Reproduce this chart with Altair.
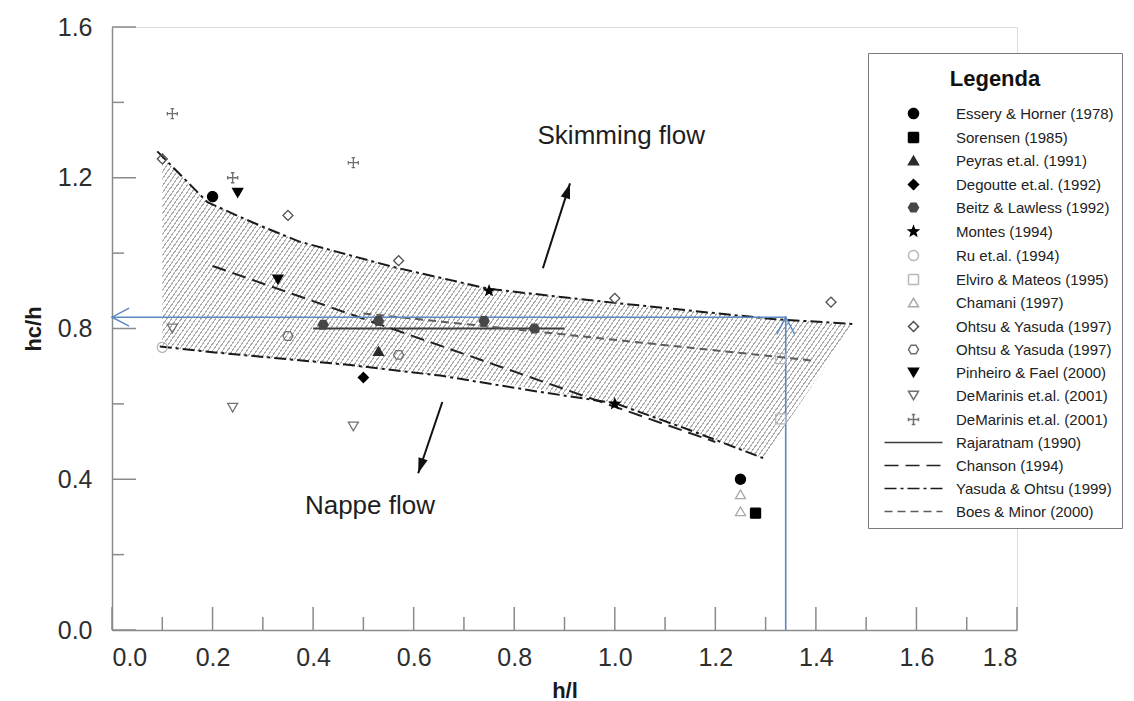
import math
import numpy as np
import pandas as pd
import altair as alt

W, H = 905, 603
X_MAX, Y_MAX = 1.8, 1.6
FONT = "Liberation Sans"

# ---------------- legend series ----------------
SERIES = [
    "Essery & Horner (1978)", "Sorensen (1985)", "Peyras et.al. (1991)",
    "Degoutte et.al. (1992)", "Beitz & Lawless (1992)", "Montes (1994)",
    "Ru et.al. (1994)", "Elviro & Mateos (1995)", "Chamani (1997)",
    "Ohtsu & Yasuda (1997)", "Ohtsu & Yasuda (1997) ", "Pinheiro & Fael (2000)",
    "DeMarinis et.al. (2001)", "DeMarinis et.al. (2001) ", "Rajaratnam (1990)",
    "Chanson (1994)", "Yasuda & Ohtsu (1999)", "Boes & Minor (2000)",
]

# ---------------- measured points ----------------
pt_series = (["Essery & Horner (1978)"] * 2 + ["Sorensen (1985)"] + ["Peyras et.al. (1991)"]
             + ["Degoutte et.al. (1992)"] + ["Beitz & Lawless (1992)"] * 4 + ["Montes (1994)"] * 2
             + ["Ru et.al. (1994)"] + ["Elviro & Mateos (1995)"] * 2 + ["Chamani (1997)"] * 2
             + ["Ohtsu & Yasuda (1997)"] * 5 + ["Ohtsu & Yasuda (1997) "] * 2
             + ["Pinheiro & Fael (2000)"] * 2 + ["DeMarinis et.al. (2001)"] * 3
             + ["DeMarinis et.al. (2001) "] * 3)
pt_x = [0.20, 1.25, 1.28, 0.53, 0.50, 0.42, 0.53, 0.74, 0.84, 0.75, 1.00,
        0.10, 1.33, 1.33, 1.25, 1.25, 0.10, 0.35, 0.57, 1.00, 1.43, 0.35, 0.57,
        0.25, 0.33, 0.12, 0.24, 0.48, 0.12, 0.24, 0.48]
pt_y = [1.15, 0.40, 0.31, 0.74, 0.67, 0.81, 0.82, 0.82, 0.80, 0.90, 0.60,
        0.75, 0.56, 0.72, 0.36, 0.315, 1.25, 1.10, 0.98, 0.88, 0.87, 0.78, 0.73,
        1.16, 0.93, 0.80, 0.59, 0.54, 1.37, 1.20, 1.24]

# ---------------- criterion lines ----------------
ln_series = (["Rajaratnam (1990)"] * 2 + ["Chanson (1994)"] * 2
             + ["Yasuda & Ohtsu (1999)"] * 10 + ["Yasuda & Ohtsu (1999)"] * 8
             + ["Boes & Minor (2000)"] * 2)
ln_seg = (["r"] * 2 + ["c"] * 2 + ["yu"] * 10 + ["yl"] * 8 + ["b"] * 2)
ln_x = [0.40, 0.90, 0.20, 1.20,
        0.09, 0.19, 0.26, 0.30, 0.374, 0.56, 0.75, 1.00, 1.315, 1.475,
        0.095, 0.20, 0.474, 0.653, 0.85, 1.00, 1.15, 1.295,
        0.50, 1.40]
ln_y = [0.80, 0.80, 0.966, 0.499,
        1.27, 1.135, 1.093, 1.07, 1.03, 0.963, 0.905, 0.868, 0.825, 0.812,
        0.752, 0.737, 0.703, 0.675, 0.632, 0.602, 0.53, 0.456,
        0.84, 0.714]

# ---------------- hatched zone ----------------
zone_x = [0.10, 0.19, 0.26, 0.374, 0.56, 0.75, 1.00, 1.15, 1.295, 1.475]
zone_hi = [1.255, 1.135, 1.093, 1.03, 0.963, 0.905, 0.868, 0.848, 0.828, 0.812]
zone_lo = [0.752, 0.737, 0.728, 0.713, 0.688, 0.662, 0.602, 0.53, 0.456, 0.812]

# ---------------- blue reading guide ----------------
blue_x = [0.0, 1.34, 1.34]
blue_y = [0.83, 0.83, 0.0]
chev_x = [0.0, 1.34]
chev_y = [0.83, 0.83]
chev_ang = [270, 0]

# ---------------- flow arrows and notes ----------------
arr_x = [0.857, 0.657]
arr_y = [0.96, 0.605]
arr_x2 = [0.911, 0.609]
arr_y2 = [1.185, 0.416]
note_text = ["Skimming flow", "Nappe flow"]
note_x = [1.013, 0.513]
note_y = [1.31, 0.329]

# ---------------- axis ticks ----------------
x_major = [0.0, 0.2, 0.4, 0.6, 0.8, 1.0, 1.2, 1.4, 1.6, 1.8]
x_minor = [0.1, 0.3, 0.5, 0.7, 0.9, 1.1, 1.3, 1.5, 1.7]
y_major = [0.0, 0.4, 0.8, 1.2, 1.6]
y_minor = [0.2, 0.6, 1.0, 1.4]

# ---------------- styles ----------------
def star_path(n=5, r_in=0.42):
    pts = []
    for k in range(2 * n):
        r = 1.0 if k % 2 == 0 else r_in
        a = -math.pi / 2 + k * math.pi / n
        pts.append(f"{r*math.cos(a):.3f},{r*math.sin(a):.3f}")
    return "M" + "L".join(pts) + "Z"

HEX = "M-1,0L-0.5,-0.866L0.5,-0.866L1,0L0.5,0.866L-0.5,0.866Z"
STAR = star_path()
CROSS = ("M-1,0L1,0M0,-1L0,1M-1,-0.35L-1,0.35M1,-0.35L1,0.35"
         "M-0.35,-1L0.35,-1M-0.35,1L0.35,1")
LINE = "M-5.8,0L5.8,0"

SHAPES = ["circle", "square", "triangle-up", "diamond", HEX, STAR, "circle", "square",
          "triangle-up", "diamond", HEX, "triangle-down", "triangle-down", CROSS,
          LINE, LINE, LINE, LINE]
STROKES = ["#000000", "#000000", "#2a2a2a", "#000000", "#474747", "#000000", "#b8b8b8",
           "#b8b8b8", "#a8a8a8", "#505050", "#6e6e6e", "#000000", "#707070", "#707070",
           "#3c3c3c", "#222222", "#1a1a1a", "#5c5c5c"]
FILLED = [True, True, True, True, True, True, False, False, False, False, False, True,
          False, False, False, False, False, False]
FILLS = [c if f else "transparent" for c, f in zip(STROKES, FILLED)]
DASHES = [[1, 0]] * 15 + [[14, 7], [12, 4, 3, 4], [8, 5]]

AXIS_COL = "#8a8a8a"
LABEL_COL = "#2e2e2e"
BLUE = "#5b87c4"

xs = alt.Scale(domain=[0, X_MAX], nice=False, zero=False)
ys = alt.Scale(domain=[0, Y_MAX], nice=False, zero=False)
x_axis = alt.Axis(values=x_major, format=".1f", title="h/l", ticks=False, tickSize=0,
                  grid=False, domainColor=AXIS_COL, domainWidth=1.5, labelFontSize=25,
                  labelColor=LABEL_COL, labelPadding=15, labelFont=FONT,
                  titleFontSize=22, titleFontWeight="bold", titleColor="#1a1a1a",
                  titleFont=FONT, titleX=W / 2, titleY=60, titleBaseline="middle")
y_axis = alt.Axis(values=y_major, format=".1f", title="hc/h", ticks=False, tickSize=0,
                  grid=False, domainColor=AXIS_COL, domainWidth=1.5, labelFontSize=25,
                  labelColor=LABEL_COL, labelPadding=20, labelFont=FONT,
                  titleFontSize=22, titleFontWeight="bold", titleColor="#1a1a1a",
                  titleFont=FONT, titleX=-79, titleY=H / 2, titleBaseline="middle")


def X(f):
    return alt.X(f, type="quantitative", scale=xs, axis=x_axis)


def Y(f):
    return alt.Y(f, type="quantitative", scale=ys, axis=y_axis)


legend = alt.Legend(
    title="Legenda", orient="none", legendX=756, legendY=26, direction="vertical",
    columns=1, padding=8, fillColor="white", strokeColor="#7a7a7a",
    titleFontSize=22, titleFontWeight="bold", titleColor="#111111", titleFont=FONT,
    titleAnchor="middle", titlePadding=23, titleBaseline="line-top", titleLineHeight=38,
    labelFontSize=15, labelColor="#222222", labelFont=FONT, labelLimit=300,
    symbolSize=100, symbolStrokeWidth=1.5, symbolOffset=30, labelOffset=35,
    rowPadding=7,
)

shape_enc = alt.Shape("series:N", scale=alt.Scale(domain=SERIES, range=SHAPES), legend=legend)
fill_enc = alt.Fill("series:N", scale=alt.Scale(domain=SERIES, range=FILLS), legend=legend)
stroke_enc = alt.Stroke("series:N", scale=alt.Scale(domain=SERIES, range=STROKES), legend=legend)
dash_enc = alt.StrokeDash("series:N", scale=alt.Scale(domain=SERIES, range=DASHES), legend=legend)

# ---------------- data frames ----------------
pts = pd.DataFrame({"series": pt_series, "x": pt_x, "y": pt_y})
lns = pd.DataFrame({"series": ln_series, "seg": ln_seg, "x": ln_x, "y": ln_y,
                    "o": list(range(len(ln_x)))})
zone = pd.DataFrame({"x": zone_x, "hi": zone_hi, "lo": zone_lo})
blue = pd.DataFrame({"x": blue_x, "y": blue_y, "o": [0, 1, 2]})
chev = pd.DataFrame({"x": chev_x, "y": chev_y, "a": chev_ang})
px_x, px_y = W / X_MAX, H / Y_MAX
ang = [(math.degrees(math.atan2((x2 - x1) * px_x, (y2 - y1) * px_y)) + 360) % 360
       for x1, y1, x2, y2 in zip(arr_x, arr_y, arr_x2, arr_y2)]
arrows = pd.DataFrame({"x": arr_x, "y": arr_y, "x2": arr_x2, "y2": arr_y2, "a": ang})
notes = pd.DataFrame({"t": note_text, "x": note_x, "y": note_y})

# ---------------- hatch as striped gradient ----------------
bw = (max(zone_x) - min(zone_x)) * px_x
bh = (max(zone_hi) - min(zone_lo)) * px_y
theta = math.radians(55)
p, q = math.sin(theta) * bw, math.cos(theta) * bh
k = (p + q) / (p * p + q * q)
span = math.sin(theta) * bw + math.cos(theta) * bh
period = 4.0
n = int(round(span / period))
frac = 0.28
stops = []
for i in range(n):
    a0, a1, a2 = i / n, (i + frac) / n, (i + 1) / n
    stops += [alt.GradientStop(offset=round(a0, 6), color="#ababab"),
              alt.GradientStop(offset=round(a1, 6), color="#ababab"),
              alt.GradientStop(offset=round(a1, 6), color="#ffffff"),
              alt.GradientStop(offset=round(a2, 6), color="#ffffff")]
hatch = alt.LinearGradient(gradient="linear", stops=stops, x1=0, y1=0,
                           x2=round(k * p, 6), y2=round(k * q, 6))

# ---------------- layers ----------------
zone_layer = alt.Chart(zone).mark_area(fill=hatch, opacity=1).encode(
    x=X("x"), y=Y("hi"), y2="lo")

xmaj = alt.Chart(pd.DataFrame({"v": x_major})).mark_rule(color=AXIS_COL, strokeWidth=1.5).encode(
    x=X("v"), y=alt.value(H), y2=alt.value(H - 23))
xmin = alt.Chart(pd.DataFrame({"v": x_minor})).mark_rule(color=AXIS_COL, strokeWidth=1.5).encode(
    x=X("v"), y=alt.value(H), y2=alt.value(H - 13))
ymaj = alt.Chart(pd.DataFrame({"v": y_major})).mark_rule(color=AXIS_COL, strokeWidth=1.5).encode(
    y=Y("v"), x=alt.value(0), x2=alt.value(24))
ymin = alt.Chart(pd.DataFrame({"v": y_minor})).mark_rule(color=AXIS_COL, strokeWidth=1.5).encode(
    y=Y("v"), x=alt.value(0), x2=alt.value(12))

line_layer = alt.Chart(lns).mark_line(strokeWidth=2, opacity=1).encode(
    x=X("x"), y=Y("y"), stroke=stroke_enc, strokeDash=dash_enc, detail="seg:N",
    order="o:Q")

blue_line = alt.Chart(blue).mark_line(color=BLUE, strokeWidth=1.6).encode(
    x=X("x"), y=Y("y"), order="o:Q")
blue_head = alt.Chart(chev).mark_point(
    shape="M-1,1.9L0,0L1,1.9", size=324, color=BLUE, strokeWidth=1.5, filled=False,
    opacity=1).encode(x=X("x"), y=Y("y"), angle=alt.Angle("a:Q", scale=None))

arrow_shaft = alt.Chart(arrows).mark_rule(color="#111111", strokeWidth=2).encode(
    x=X("x"), y=Y("y"), x2="x2", y2="y2")
arrow_head = alt.Chart(arrows).mark_point(
    shape="M0,0L-0.6,1.9L0.6,1.9Z", size=256, filled=True, color="#111111",
    opacity=1).encode(x=X("x2"), y=Y("y2"), angle=alt.Angle("a:Q", scale=None))

note_layer = alt.Chart(notes).mark_text(fontSize=26, font=FONT, color="#1e1e1e").encode(
    x=X("x"), y=Y("y"), text="t:N")

point_layer = alt.Chart(pts).mark_point(size=100, strokeWidth=1.3, opacity=1).encode(
    x=X("x"), y=Y("y"), shape=shape_enc, fill=fill_enc, stroke=stroke_enc,
    strokeDash=dash_enc)

chart = alt.layer(
    zone_layer, xmaj, xmin, ymaj, ymin, line_layer, blue_line, blue_head,
    arrow_shaft, arrow_head, note_layer, point_layer,
).properties(
    width=W, height=H,
    padding={"left": 112, "top": 27, "right": 117, "bottom": 71},
    autosize=alt.AutoSizeParams(type="none"),
).configure_view(stroke="transparent").configure(font=FONT, background="white")

chart.save("out.html", embed_options={"renderer": "svg", "actions": False})
